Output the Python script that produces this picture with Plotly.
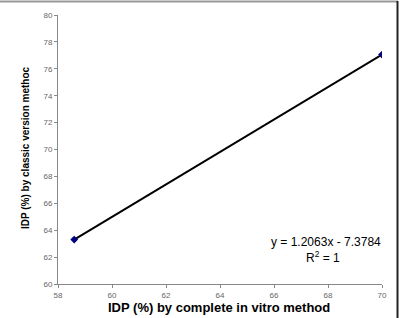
import plotly.graph_objects as go

x_vals = [58.6, 70.0]
y_vals = [63.3, 77.06]
x_ticks = [58, 60, 62, 64, 66, 68, 70]
y_ticks = [60, 62, 64, 66, 68, 70, 72, 74, 76, 78, 80]
x_title = "<b>IDP (%) by complete in vitro method</b>"
y_title = "<b>IDP (%) by classic version methoc</b>"
eq_text = "y = 1.2063x - 7.3784"
r2_text = "R<sup>2</sup> = 1"

W, H = 401, 318
L, R, T, B = 58, 19, 15, 34
pw, ph = W - L - R, H - T - B

def px2paper_x(px):
    return (px - L) / pw

def px2paper_y(py):
    return (H - B - py) / ph

fig = go.Figure()
fig.add_trace(go.Scatter(
    x=x_vals, y=y_vals, mode="lines+markers",
    line=dict(color="black", width=2),
    marker=dict(symbol="diamond", size=6, color="#000080"),
    showlegend=False,
))

axis_common = dict(
    showgrid=False, zeroline=False, showline=True, linecolor="#888888", linewidth=1,
    ticks="outside", ticklen=3, tickcolor="#888888", automargin=False,
    tickfont=dict(family="Arial, Liberation Sans", size=8, color="#666666"),
)
fig.update_xaxes(range=[58, 70], tickvals=x_ticks, **axis_common)
fig.update_yaxes(range=[60, 80], tickvals=y_ticks, **axis_common)

fig.add_annotation(x=px2paper_x(219), y=px2paper_y(307), xref="paper", yref="paper",
                   text=x_title, showarrow=False, xanchor="center", yanchor="middle",
                   font=dict(family="Arial, Liberation Sans", size=13, color="black"))
fig.add_annotation(x=px2paper_x(25), y=px2paper_y(148), xref="paper", yref="paper",
                   text=y_title, showarrow=False, xanchor="center", yanchor="middle",
                   textangle=-90,
                   font=dict(family="Arial, Liberation Sans", size=10, color="black"))

fig.add_annotation(x=px2paper_x(383), y=px2paper_y(242), xref="paper", yref="paper",
                   text=eq_text, showarrow=False, xanchor="right", yanchor="middle",
                   font=dict(family="Arial, Liberation Sans", size=12, color="black"))
fig.add_annotation(x=px2paper_x(323), y=px2paper_y(257), xref="paper", yref="paper",
                   text=r2_text, showarrow=False, xanchor="center", yanchor="middle",
                   font=dict(family="Arial, Liberation Sans", size=12, color="black"))

# frame lines
fig.add_shape(type="line", xref="paper", yref="paper",
              x0=px2paper_x(0), x1=px2paper_x(398), y0=px2paper_y(1.5), y1=px2paper_y(1.5),
              line=dict(color="#999999", width=2))
fig.add_shape(type="line", xref="paper", yref="paper",
              x0=px2paper_x(397.5), x1=px2paper_x(397.5), y0=px2paper_y(1), y1=px2paper_y(318),
              line=dict(color="#222222", width=2))

fig.update_layout(width=W, height=H, margin=dict(l=L, r=R, t=T, b=B),
                  paper_bgcolor="white", plot_bgcolor="white")
fig.write_html("out.html")
